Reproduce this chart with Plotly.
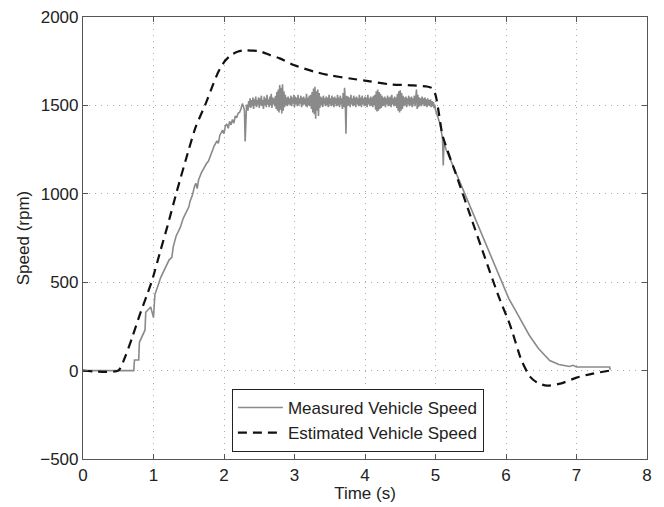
import plotly.graph_objects as go

# ---- Measured vehicle speed (rpm) vs time (s) ----
meas_rise_t = [0.00, 0.70, 0.72, 0.73, 0.79, 0.80, 0.85, 0.88, 0.89, 0.93, 0.96, 0.99, 1.00, 1.02,
               1.05, 1.08, 1.10, 1.14, 1.18, 1.22, 1.26, 1.28, 1.32, 1.36, 1.38, 1.42, 1.46, 1.50,
               1.52, 1.55, 1.58, 1.60, 1.62, 1.64, 1.68, 1.72, 1.75, 1.78, 1.82, 1.86, 1.90, 1.92,
               1.94, 1.96, 1.98, 2.00, 2.02, 2.04, 2.06, 2.08, 2.10, 2.12, 2.14, 2.16, 2.18, 2.20,
               2.22, 2.24, 2.26, 2.28, 2.29, 2.30, 2.31, 2.32]
meas_rise_v = [0, 0, 0, 60, 60, 160, 200, 230, 330, 345, 360, 315, 300, 430,
               460, 500, 525, 560, 600, 625, 640, 700, 760, 790, 810, 860, 895, 925,
               960, 990, 1040, 1060, 1030, 1080, 1120, 1150, 1170, 1185, 1230, 1270, 1300, 1285,
               1330, 1345, 1360, 1340, 1385, 1395, 1370, 1410, 1390, 1420, 1400, 1440, 1430, 1455,
               1460, 1480, 1510, 1490, 1470, 1296, 1480, 1500]

meas_plateau_t0 = 2.33
meas_plateau_dt = 0.01
meas_plateau_v = [
    1500, 1470, 1525, 1490, 1540, 1485, 1530, 1495, 1545, 1480,
    1535, 1500, 1550, 1490, 1530, 1505, 1545, 1485, 1540, 1500,
    1555, 1495, 1530, 1480, 1550, 1500, 1540, 1490, 1560, 1505,
    1535, 1490, 1550, 1500, 1565, 1485, 1545, 1505, 1540, 1495,
    1555, 1480, 1575, 1470, 1590, 1460, 1615, 1475, 1600, 1455,
    1620, 1470, 1580, 1490, 1560, 1500, 1545, 1495, 1550, 1505,
    1540, 1500, 1555, 1495, 1545, 1510, 1560, 1490, 1550, 1505,
    1545, 1495, 1560, 1500, 1540, 1510, 1555, 1490, 1545, 1500,
    1550, 1505, 1540, 1495, 1565, 1490, 1545, 1500, 1555, 1495,
    1560, 1480, 1575, 1460, 1595, 1450, 1605, 1425, 1580, 1470,
    1590, 1440, 1570, 1485, 1550, 1500, 1545, 1490, 1555, 1505,
    1540, 1495, 1550, 1500, 1545, 1490, 1560, 1505, 1540, 1495,
    1555, 1500, 1545, 1490, 1550, 1505, 1540, 1495, 1560, 1500,
    1545, 1490, 1555, 1505, 1540, 1480, 1570, 1490, 1600, 1520,
    1340, 1555, 1495, 1550, 1500, 1545, 1490, 1560, 1505, 1540,
    1495, 1555, 1500, 1545, 1490, 1550, 1505, 1540, 1495, 1560,
    1500, 1545, 1490, 1555, 1505, 1540, 1495, 1550, 1500, 1545,
    1490, 1560, 1505, 1540, 1495, 1550, 1500, 1545, 1490, 1555,
    1500, 1560, 1475, 1580, 1465, 1590, 1470, 1575, 1480, 1565,
    1485, 1555, 1495, 1545, 1500, 1550, 1490, 1540, 1505, 1555,
    1495, 1545, 1500, 1550, 1490, 1560, 1505, 1540, 1495, 1550,
    1500, 1545, 1485, 1565, 1470, 1580, 1460, 1585, 1470, 1570,
    1480, 1555, 1495, 1545, 1500, 1550, 1490, 1540, 1505, 1555,
    1495, 1545, 1500, 1550, 1490, 1540, 1505, 1555, 1495, 1565,
    1590, 1480, 1560, 1490, 1545, 1500, 1540, 1495, 1550, 1505,
    1540, 1495, 1545, 1500, 1535, 1490, 1540, 1500, 1530, 1495,
    1535, 1490, 1525, 1495, 1520, 1485, 1505, 1475]
meas_plateau_t = [round(meas_plateau_t0 + meas_plateau_dt * i, 2) for i in range(len(meas_plateau_v))]

meas_fall_t = [5.03, 5.06, 5.08, 5.10, 5.11, 5.12, 5.15, 5.20, 5.30, 5.40, 5.50, 5.60, 5.70, 5.80,
               5.90, 5.97, 6.04, 6.12, 6.20, 6.33, 6.46, 6.62, 6.75, 6.90, 6.95, 7.00, 7.20, 7.47, 7.48]
meas_fall_v = [1440, 1400, 1360, 1310, 1160, 1290, 1250, 1200, 1110, 1015, 920, 825, 730, 630,
               530, 465, 407, 350, 294, 200, 125, 57, 35, 23, 30, 20, 20, 20, 5]

meas_t = meas_rise_t + meas_plateau_t + meas_fall_t
meas_v = meas_rise_v + meas_plateau_v + meas_fall_v

# ---- Estimated vehicle speed (rpm) vs time (s) ----
est_t = [0.00, 0.50, 0.60, 0.70, 0.80, 0.90, 0.98, 1.10, 1.20, 1.33, 1.50, 1.60, 1.73, 1.84, 1.92,
         2.01, 2.10, 2.20, 2.30, 2.40, 2.51, 2.65, 2.79, 3.00, 3.27, 3.50, 3.79, 4.07, 4.35, 4.68,
         4.88, 4.95, 5.00, 5.05, 5.10, 5.30, 5.50, 5.70, 5.90, 6.06, 6.22, 6.34, 6.45, 6.58, 6.77,
         7.00, 7.23, 7.47]
est_v = [0, 0, 80, 190, 310, 420, 510, 680, 820, 1013, 1250, 1380, 1500, 1613, 1690,
         1750, 1785, 1805, 1812, 1810, 1806, 1785, 1766, 1727, 1692, 1670, 1652, 1636, 1619, 1613,
         1607, 1598, 1560, 1450, 1330, 1100, 870, 640, 415, 255, 57, -34, -70, -85, -74,
         -40, -17, 0]

x_ticks = [0, 1, 2, 3, 4, 5, 6, 7, 8]
y_ticks = [-500, 0, 500, 1000, 1500, 2000]

FONT = "Liberation Sans, Arial, Helvetica, sans-serif"

fig = go.Figure()
fig.add_trace(go.Scatter(x=meas_t, y=meas_v, mode="lines", name="Measured Vehicle Speed",
                         line=dict(color="#8a8a8a", width=1.6)))
fig.add_trace(go.Scatter(x=est_t, y=est_v, mode="lines", name="Estimated Vehicle Speed",
                         line=dict(color="#111111", width=2.2, dash="9px,6px", shape="spline",
                                   smoothing=0.6)))

axis_common = dict(showline=True, linecolor="#555555", linewidth=1.2, mirror="ticks",
                   ticks="inside", ticklen=5, tickcolor="#555555", showgrid=True,
                   gridcolor="#aaaaaa", gridwidth=1, griddash="1px,5px", zeroline=False,
                   tickfont=dict(family=FONT, size=17, color="#222"),
                   title_font=dict(family=FONT, size=17, color="#222"))

fig.update_xaxes(range=[0, 8], tickvals=x_ticks, title_text="Time (s)", title_standoff=2,
                 **axis_common)
fig.update_yaxes(range=[-500, 2000], tickvals=y_ticks, title_text="Speed (rpm)", title_standoff=6,
                 **axis_common)

fig.update_layout(
    width=664, height=507,
    margin=dict(l=83, r=17, t=17, b=48, autoexpand=False),
    paper_bgcolor="white", plot_bgcolor="white",
    showlegend=True,
    legend=dict(x=0.264, y=0.016, xanchor="left", yanchor="bottom",
                bgcolor="white", bordercolor="#222", borderwidth=1, itemwidth=45,
                font=dict(family=FONT, size=17, color="#222"),
                tracegroupgap=0),
)

fig.write_html("out.html")
